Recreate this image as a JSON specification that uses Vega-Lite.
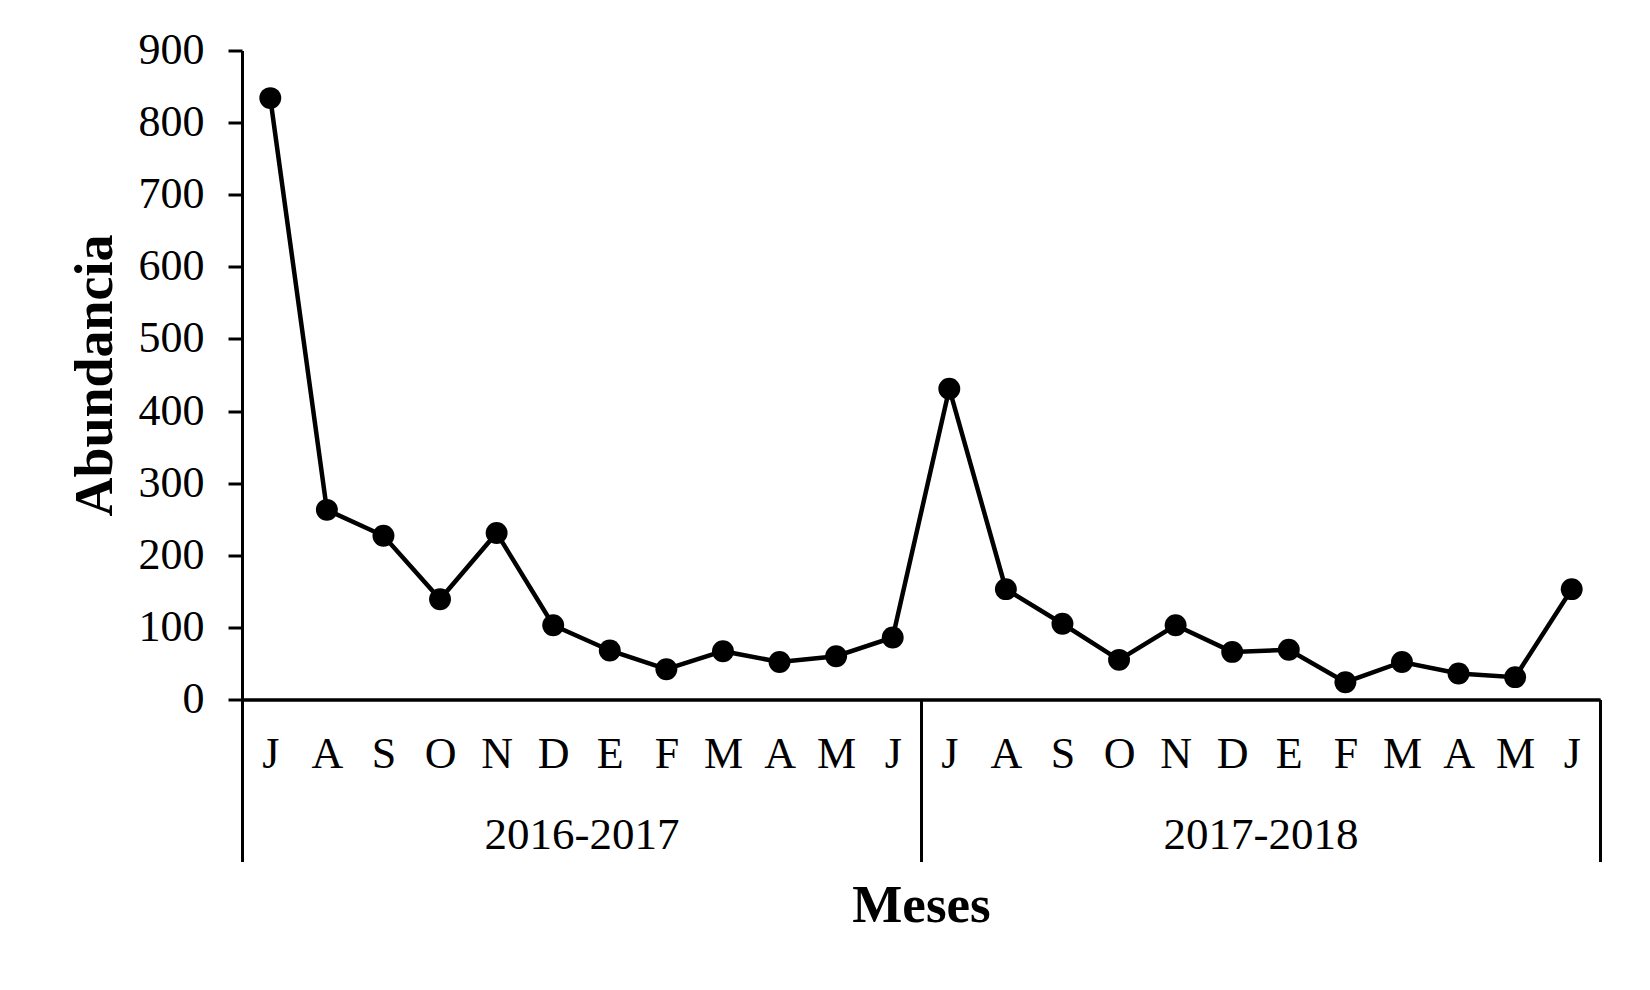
{
  "$schema": "https://vega.github.io/schema/vega-lite/v6.json",
  "width": 1358,
  "height": 649,
  "autosize": {"type": "none"},
  "padding": {"left": 242, "top": 50.5, "right": 50, "bottom": 290.5},
  "background": "white",
  "config": {
    "view": {"stroke": null},
    "font": "Liberation Serif",
    "axis": {
      "domainColor": "black",
      "domainWidth": 3,
      "tickColor": "black",
      "tickWidth": 3,
      "labelColor": "black",
      "titleColor": "black",
      "labelFont": "Liberation Serif",
      "titleFont": "Liberation Serif",
      "grid": false
    }
  },
  "data": {
    "values": [
      {"pos": 0.5, "mes": "J", "periodo": "2016-2017", "abundancia": 834},
      {"pos": 1.5, "mes": "A", "periodo": "2016-2017", "abundancia": 263},
      {"pos": 2.5, "mes": "S", "periodo": "2016-2017", "abundancia": 227},
      {"pos": 3.5, "mes": "O", "periodo": "2016-2017", "abundancia": 139},
      {"pos": 4.5, "mes": "N", "periodo": "2016-2017", "abundancia": 231},
      {"pos": 5.5, "mes": "D", "periodo": "2016-2017", "abundancia": 103},
      {"pos": 6.5, "mes": "E", "periodo": "2016-2017", "abundancia": 68},
      {"pos": 7.5, "mes": "F", "periodo": "2016-2017", "abundancia": 42},
      {"pos": 8.5, "mes": "M", "periodo": "2016-2017", "abundancia": 67},
      {"pos": 9.5, "mes": "A", "periodo": "2016-2017", "abundancia": 52},
      {"pos": 10.5, "mes": "M", "periodo": "2016-2017", "abundancia": 60},
      {"pos": 11.5, "mes": "J", "periodo": "2016-2017", "abundancia": 86},
      {"pos": 12.5, "mes": "J", "periodo": "2017-2018", "abundancia": 431},
      {"pos": 13.5, "mes": "A", "periodo": "2017-2018", "abundancia": 153},
      {"pos": 14.5, "mes": "S", "periodo": "2017-2018", "abundancia": 105},
      {"pos": 15.5, "mes": "O", "periodo": "2017-2018", "abundancia": 55},
      {"pos": 16.5, "mes": "N", "periodo": "2017-2018", "abundancia": 103},
      {"pos": 17.5, "mes": "D", "periodo": "2017-2018", "abundancia": 66},
      {"pos": 18.5, "mes": "E", "periodo": "2017-2018", "abundancia": 69},
      {"pos": 19.5, "mes": "F", "periodo": "2017-2018", "abundancia": 24},
      {"pos": 20.5, "mes": "M", "periodo": "2017-2018", "abundancia": 52},
      {"pos": 21.5, "mes": "A", "periodo": "2017-2018", "abundancia": 36},
      {"pos": 22.5, "mes": "M", "periodo": "2017-2018", "abundancia": 31},
      {"pos": 23.5, "mes": "J", "periodo": "2017-2018", "abundancia": 153}
    ]
  },
  "encoding": {
    "y": {
      "field": "abundancia",
      "type": "quantitative",
      "scale": {"domain": [0, 900], "nice": false},
      "axis": {
        "values": [0, 100, 200, 300, 400, 500, 600, 700, 800, 900],
        "tickSize": 14,
        "labelPadding": 24,
        "labelFontSize": 44,
        "title": "Abundancia",
        "titleFontSize": 54,
        "titleFontWeight": "bold",
        "titleX": -131,
        "titleY": 324.5,
        "titleBaseline": "alphabetic"
      }
    }
  },
  "layer": [
    {
      "mark": {"type": "line", "color": "black", "strokeWidth": 4.5},
      "encoding": {
        "x": {
          "field": "pos",
          "type": "quantitative",
          "scale": {"domain": [0, 24], "nice": false, "zero": false},
          "axis": {
            "orient": "bottom",
            "values": [0.5, 1.5, 2.5, 3.5, 4.5, 5.5, 6.5, 7.5, 8.5, 9.5, 10.5, 11.5, 12.5, 13.5, 14.5, 15.5, 16.5, 17.5, 18.5, 19.5, 20.5, 21.5, 22.5, 23.5],
            "labelExpr": "['J','A','S','O','N','D','E','F','M','A','M','J'][floor(datum.value) % 12]",
            "ticks": false,
            "labelPadding": 33,
            "labelBaseline": "top",
            "labelFontSize": 44,
            "labelOverlap": false,
            "labelFlush": false,
            "title": null
          }
        }
      }
    },
    {
      "mark": {"type": "point", "filled": true, "color": "black", "size": 480, "opacity": 1},
      "encoding": {
        "x": {
          "field": "pos",
          "type": "quantitative",
          "scale": {"domain": [0, 24], "nice": false, "zero": false},
          "axis": {
            "orient": "bottom",
            "values": [0, 6, 12, 18, 24],
            "labelExpr": "datum.value == 6 ? '2016-2017' : (datum.value == 18 ? '2017-2018' : '')",
            "tickSize": 162,
            "tickOpacity": {"condition": {"test": "datum.value % 12 === 0", "value": 1}, "value": 0},
            "labelPadding": -49,
            "labelBaseline": "top",
            "labelFontSize": 45,
            "labelLimit": 1000,
            "labelOverlap": false,
            "labelFlush": false,
            "title": "Meses",
            "titleFontSize": 53,
            "titleFontWeight": "bold",
            "titleX": 679,
            "titleY": 222,
            "titleBaseline": "alphabetic"
          }
        }
      }
    }
  ],
  "resolve": {"axis": {"x": "independent"}}
}
